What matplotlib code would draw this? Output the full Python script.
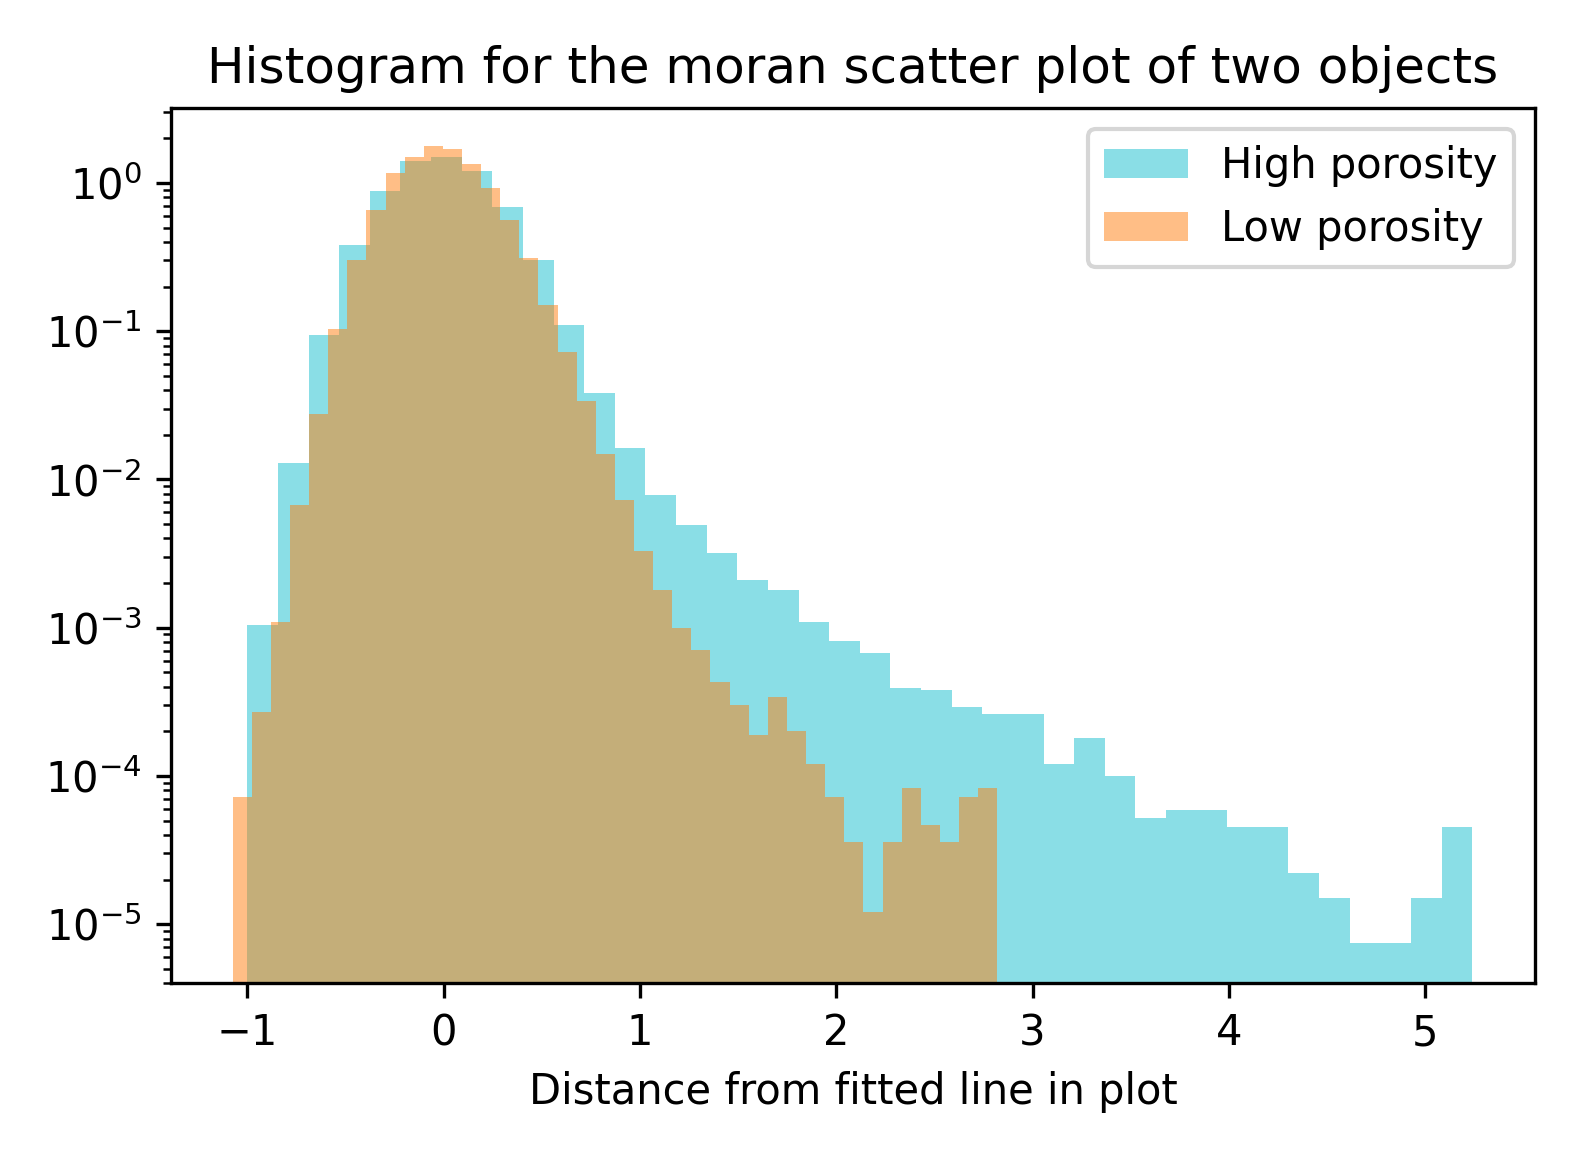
import matplotlib
matplotlib.use("Agg")
import matplotlib.pyplot as plt
import numpy as np

# bin ranges and density heights
high_range = (-1.0, 5.24)
high_heights = [1.05e-3, 1.3e-2, 0.094, 0.38, 0.88, 1.4, 1.5, 1.2, 0.69, 0.30,
                0.11, 0.038, 0.0163, 0.0079, 0.0049, 0.0032, 0.0021, 0.0018, 0.0011, 8.1e-4,
                6.7e-4, 3.9e-4, 3.8e-4, 2.9e-4, 2.6e-4, 2.6e-4, 1.2e-4, 1.8e-4, 1.0e-4, 5.2e-5,
                5.9e-5, 5.9e-5, 4.5e-5, 4.5e-5, 2.2e-5, 1.5e-5, 7.5e-6, 7.5e-6, 1.5e-5, 4.5e-5]

low_range = (-1.075, 2.82)
low_heights = [7.2e-5, 2.7e-4, 1.1e-3, 6.7e-3, 0.0276, 0.103, 0.30, 0.66, 1.16, 1.5,
               1.78, 1.7, 1.35, 0.93, 0.56, 0.31, 0.15, 0.072, 0.034, 0.0148,
               0.0073, 0.0033, 0.0018, 1e-3, 7.1e-4, 4.3e-4, 3.0e-4, 1.9e-4, 3.4e-4, 2.0e-4,
               1.2e-4, 7.2e-5, 3.6e-5, 1.2e-5, 3.6e-5, 8.3e-5, 4.7e-5, 3.6e-5, 7.2e-5, 8.3e-5]

fig = plt.figure(figsize=(1580 / 300, 1158 / 300), dpi=300)

high_edges = np.linspace(high_range[0], high_range[1], len(high_heights) + 1)
low_edges = np.linspace(low_range[0], low_range[1], len(low_heights) + 1)

plt.hist((high_edges[:-1] + high_edges[1:]) / 2, bins=high_edges, weights=high_heights,
         color='tab:cyan', alpha=0.5, label='High porosity')
plt.hist((low_edges[:-1] + low_edges[1:]) / 2, bins=low_edges, weights=low_heights,
         color='tab:orange', alpha=0.5, label='Low porosity')

plt.yscale('log')
plt.ylim(4e-6, 3.2)
plt.xlim(-1.39, 5.56)
plt.xlabel('Distance from fitted line in plot')
plt.title('Histogram for the moran scatter plot of two objects')
plt.legend(loc='upper right')
plt.tight_layout()
plt.savefig('out.png', dpi=300)
